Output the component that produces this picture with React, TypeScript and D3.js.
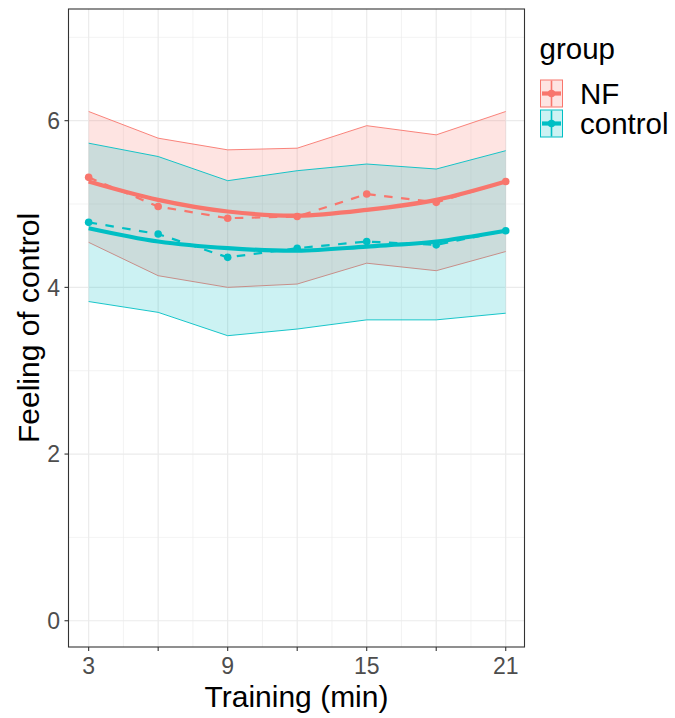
import React from "react";
import * as d3 from "d3";

const xValues = [3, 6, 9, 12, 15, 18, 21];
const nfMean = [5.32, 4.97, 4.83, 4.85, 5.12, 5.02, 5.27];
const nfUpper = [6.11, 5.79, 5.65, 5.67, 5.94, 5.83, 6.11];
const nfLower = [4.54, 4.14, 4.0, 4.04, 4.29, 4.2, 4.43];
const nfSmooth = [5.27, 5.05, 4.91, 4.86, 4.93, 5.05, 5.27];
const controlMean = [4.78, 4.64, 4.36, 4.47, 4.55, 4.51, 4.68];
const controlUpper = [5.73, 5.57, 5.28, 5.4, 5.48, 5.42, 5.64];
const controlLower = [3.83, 3.7, 3.42, 3.5, 3.61, 3.61, 3.69];
const controlSmooth = [4.71, 4.55, 4.47, 4.44, 4.49, 4.55, 4.68];

const groups = ["NF", "control"];
const groupColors = ["#F8766D", "#00BFC4"];
const xBreaks = [3, 6, 9, 12, 15, 18, 21];
const xLabels = ["3", "", "9", "", "15", "", "21"];
const xMinor = [4.5, 7.5, 10.5, 13.5, 16.5, 19.5];
const yBreaks = [0, 2, 4, 6];
const yMinor = [1, 3, 5, 7];

const W = 675;
const H = 718;
const panel = { left: 68.5, right: 524.5, top: 9, bottom: 647 };
const FONT = "'Liberation Sans', Arial, Helvetica, sans-serif";

export default function App() {
  const x = d3.scaleLinear().domain([2.13, 21.81]).range([panel.left, panel.right]);
  const y = d3.scaleLinear().domain([-0.315, 7.34]).range([panel.bottom, panel.top]);

  const series = [
    { mean: nfMean, upper: nfUpper, lower: nfLower, smooth: nfSmooth },
    { mean: controlMean, upper: controlUpper, lower: controlLower, smooth: controlSmooth },
  ];

  const lineGen = d3
    .line<number>()
    .x((_, i) => x(xValues[i]))
    .y((d) => y(d));
  const smoothGen = d3
    .line<number>()
    .x((_, i) => x(xValues[i]))
    .y((d) => y(d))
    .curve(d3.curveCatmullRom.alpha(0.5));

  const ribbonPath = (lo: number[], hi: number[]) =>
    d3
      .area<number>()
      .x((_, i) => x(xValues[i]))
      .y0((_, i) => y(lo[i]))
      .y1((d) => y(d))(hi) as string;

  const legendKeys = [
    { top: 79.5, h: 28 },
    { top: 109.5, h: 28 },
  ];

  return (
    <svg
      width={W}
      height={H}
      style={{ position: "absolute", left: 0, top: 0, background: "#fff" }}
      fontFamily={FONT}
    >
      <rect x={0} y={0} width={W} height={H} fill="#fff" />
      {/* grid */}
      <g>
        {xMinor.map((v) => (
          <line key={"xm" + v} x1={x(v)} x2={x(v)} y1={panel.top} y2={panel.bottom} stroke="#EBEBEB" strokeWidth={0.6} />
        ))}
        {yMinor.map((v) => (
          <line key={"ym" + v} x1={panel.left} x2={panel.right} y1={y(v)} y2={y(v)} stroke="#EBEBEB" strokeWidth={0.6} />
        ))}
        {xBreaks.map((v) => (
          <line key={"xM" + v} x1={x(v)} x2={x(v)} y1={panel.top} y2={panel.bottom} stroke="#EBEBEB" strokeWidth={1.2} />
        ))}
        {yBreaks.map((v) => (
          <line key={"yM" + v} x1={panel.left} x2={panel.right} y1={y(v)} y2={y(v)} stroke="#EBEBEB" strokeWidth={1.2} />
        ))}
      </g>
      {/* ribbons */}
      {series.map((s, gi) => (
        <g key={"rib" + gi}>
          <path d={ribbonPath(s.lower, s.upper)} fill={groupColors[gi]} fillOpacity={0.2} stroke="none" />
          <path d={lineGen(s.upper) as string} fill="none" stroke={groupColors[gi]} strokeWidth={0.9} />
          <path d={lineGen(s.lower) as string} fill="none" stroke={groupColors[gi]} strokeWidth={0.9} />
        </g>
      ))}
      {/* dashed mean lines, smooth lines, points */}
      {series.map((s, gi) => (
        <g key={"ln" + gi}>
          <path d={lineGen(s.mean) as string} fill="none" stroke={groupColors[gi]} strokeWidth={2.2} strokeDasharray="8.5 8.5" />
          <path d={smoothGen(s.smooth) as string} fill="none" stroke={groupColors[gi]} strokeWidth={4.2} />
          {s.mean.map((v, i) => (
            <circle key={i} cx={x(xValues[i])} cy={y(v)} r={3.8} fill={groupColors[gi]} />
          ))}
        </g>
      ))}
      {/* panel border */}
      <rect
        x={panel.left}
        y={panel.top}
        width={panel.right - panel.left}
        height={panel.bottom - panel.top}
        fill="none"
        stroke="#333333"
        strokeWidth={1.1}
      />
      {/* x axis */}
      {xBreaks.map((v, i) => (
        <g key={"xt" + v}>
          <line x1={x(v)} x2={x(v)} y1={panel.bottom} y2={panel.bottom + 4} stroke="#333333" strokeWidth={1.1} />
          {xLabels[i] && (
            <text x={x(v)} y={674} textAnchor="middle" fontSize={23} fill="#4D4D4D">
              {xLabels[i]}
            </text>
          )}
        </g>
      ))}
      {/* y axis */}
      {yBreaks.map((v) => (
        <g key={"yt" + v}>
          <line x1={panel.left - 4} x2={panel.left} y1={y(v)} y2={y(v)} stroke="#333333" strokeWidth={1.1} />
          <text x={60} y={y(v)} dy="0.36em" textAnchor="end" fontSize={23} fill="#4D4D4D">
            {v}
          </text>
        </g>
      ))}
      {/* axis titles */}
      <text x={(panel.left + panel.right) / 2} y={706.5} textAnchor="middle" fontSize={30} fill="#000">
        Training (min)
      </text>
      <text
        transform={`translate(38.5, ${(panel.top + panel.bottom) / 2}) rotate(-90)`}
        textAnchor="middle"
        fontSize={30}
        fill="#000"
      >
        Feeling of control
      </text>
      {/* legend */}
      <text x={539.5} y={59} fontSize={29.5} fill="#000">
        group
      </text>
      {groups.map((g, gi) => {
        const k = legendKeys[gi];
        const kx = 540;
        const kw = 23;
        const cx = kx + kw / 2;
        const cy = k.top + k.h / 2;
        return (
          <g key={g}>
            <rect x={kx} y={k.top} width={kw} height={k.h} fill="#fff" />
            <rect x={kx + 0.5} y={k.top + 0.5} width={kw - 1} height={k.h - 1} fill={groupColors[gi]} fillOpacity={0.2} stroke={groupColors[gi]} strokeWidth={1} />
            <line x1={cx} x2={cx} y1={k.top + 1} y2={k.top + k.h - 1} stroke={groupColors[gi]} strokeWidth={1.6} />
            <line x1={kx + 2} x2={kx + kw - 2} y1={cy} y2={cy} stroke={groupColors[gi]} strokeWidth={4.2} />
            <circle cx={cx} cy={cy} r={3.7} fill={groupColors[gi]} />
            <text x={580} y={cy + 10.5} fontSize={29.5} fill="#000">
              {g}
            </text>
          </g>
        );
      })}
    </svg>
  );
}
